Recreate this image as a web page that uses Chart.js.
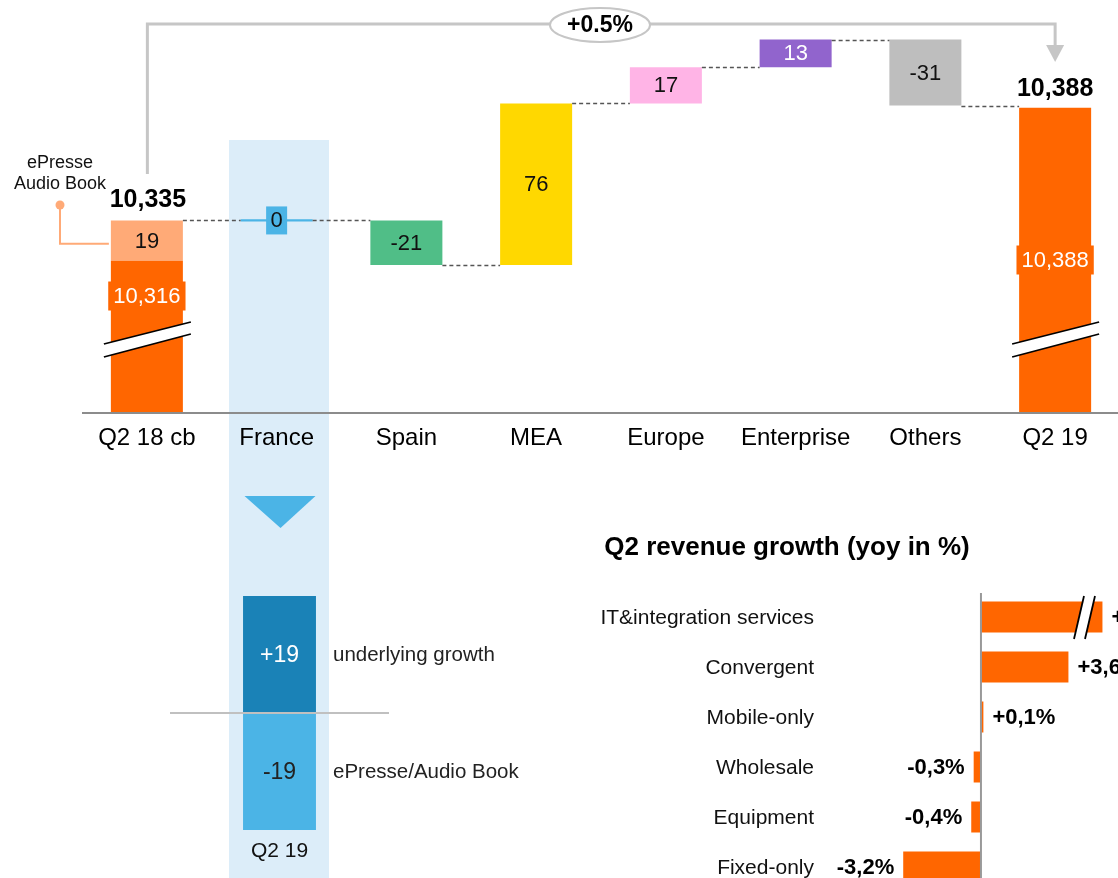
<!DOCTYPE html>
<html><head><meta charset="utf-8">
<script src="https://cdn.jsdelivr.net/npm/chart.js@4.4.1/dist/chart.umd.min.js"></script>
<style>
html,body{margin:0;padding:0;background:#fff;overflow:hidden;width:1118px;height:878px;}
#band{position:absolute;left:229px;top:140px;width:100px;height:738px;background:#dcedf9;}
.box{position:absolute;}
canvas{display:block;}
</style></head><body>
<div id="band"></div>
<div class="box" style="left:0;top:0;width:1120px;height:470px;"><canvas id="wf" width="1120" height="470"></canvas></div>
<div class="box" style="left:170px;top:480px;width:380px;height:398px;overflow:hidden"><canvas id="fr" width="380" height="400"></canvas></div>
<div class="box" style="left:560px;top:520px;width:558px;height:358px;overflow:hidden"><canvas id="hb" width="558" height="390"></canvas></div>
<script>
// ---------- DATA ----------
const categories = ['Q2 18 cb', 'France', 'Spain', 'MEA', 'Europe', 'Enterprise', 'Others', 'Q2 19'];
const openBase = 10316;        // Q2 18 cb excluding ePresse / Audio Book
const openEpresse = 19;        // ePresse / Audio Book part
const changes = [0, -21, 76, 17, 13, -31];   // France .. Others
const closeTotal = 10388;      // Q2 19
const growthLabel = '+0.5%';
const calloutLines = ['ePresse', 'Audio Book'];

const breakdownCategory = ['Q2 19'];
const breakdownSeries = ['underlying growth', 'ePresse/Audio Book'];
const breakdownValues = [19, -19];

const segments = ['IT&integration services', 'Convergent', 'Mobile-only', 'Wholesale', 'Equipment', 'Fixed-only'];
const growthShown = [5.0, 3.6, 0.1, -0.3, -0.4, -3.2];   // bar length as drawn (first bar is axis-broken)
const growthLabels = ['+10,8%', '+3,6%', '+0,1%', '-0,3%', '-0,4%', '-3,2%'];
const growthTitle = 'Q2 revenue growth (yoy in %)';

// ---------- STYLE ----------
const FONT = '"Liberation Sans", Arial, Helvetica, sans-serif';
const ORANGE = '#ff6600';
const barColors = ['#ff6600', '#4bb4e6', '#50be87', '#ffd800', '#ffb4e6', '#9164cd', '#bebebe', '#ff6600'];
const labelColors = ['#fff', '#111', '#111', '#111', '#111', '#fff', '#111', '#fff'];
const Y_MIN = 10244.5, Y_MAX = 10438.6;

const fmt = v => v.toLocaleString('en-US');

// running levels
const levels = [openBase + openEpresse];
changes.forEach(c => levels.push(levels[levels.length - 1] + c));
const mainData = [[Y_MIN, openBase]];
changes.forEach((c, i) => {
  const a = levels[i], b = levels[i + 1];
  mainData.push(c === 0 ? [a - 0.5, a + 0.5] : [Math.min(a, b), Math.max(a, b)]);
});
mainData.push([Y_MIN, closeTotal]);
const epData = categories.map((c, i) => i === 0 ? [openBase, openBase + openEpresse] : null);
const mainLabels = [fmt(openBase)].concat(changes.map(c => String(c))).concat([fmt(closeTotal)]);

Chart.defaults.font.family = FONT;

function txt(ctx, s, x, y, size, color, align, bold) {
  ctx.save();
  ctx.font = (bold ? 'bold ' : '') + size + 'px ' + FONT;
  ctx.fillStyle = color;
  ctx.textAlign = align || 'center';
  ctx.textBaseline = 'middle';
  ctx.fillText(s, x, y);
  ctx.restore();
}

function breakMark(ctx, pts) {
  ctx.save();
  ctx.beginPath();
  ctx.moveTo(pts[0][0], pts[0][1]);
  for (let i = 1; i < pts.length; i++) ctx.lineTo(pts[i][0], pts[i][1]);
  ctx.closePath();
  ctx.fillStyle = '#fff';
  ctx.fill();
  ctx.strokeStyle = '#000';
  ctx.lineWidth = 1.8;
  ctx.beginPath(); ctx.moveTo(pts[0][0], pts[0][1]); ctx.lineTo(pts[1][0], pts[1][1]); ctx.stroke();
  ctx.beginPath(); ctx.moveTo(pts[3][0], pts[3][1]); ctx.lineTo(pts[2][0], pts[2][1]); ctx.stroke();
  ctx.restore();
}

// ---------- WATERFALL ----------
const wfPlugin = {
  id: 'wfDecor',
  afterDatasetsDraw(chart) {
    const ctx = chart.ctx;
    const y = chart.scales.y;
    const bars = chart.getDatasetMeta(0).data;
    const ep = chart.getDatasetMeta(1).data[0];
    const area = chart.chartArea;

    // axis line
    ctx.save();
    ctx.strokeStyle = '#8c8c8c'; ctx.lineWidth = 2;
    ctx.beginPath(); ctx.moveTo(area.left, area.bottom); ctx.lineTo(area.right, area.bottom); ctx.stroke();
    ctx.restore();

    // connectors
    ctx.save();
    ctx.strokeStyle = '#555'; ctx.lineWidth = 1.3; ctx.setLineDash([4, 3]);
    for (let i = 0; i < bars.length - 1; i++) {
      const ly = Math.round(y.getPixelForValue(levels[i])) + 0.5;
      const x1 = bars[i].x + bars[i].width / 2, x2 = bars[i + 1].x - bars[i + 1].width / 2;
      ctx.beginPath(); ctx.moveTo(x1, ly); ctx.lineTo(x2, ly); ctx.stroke();
    }
    ctx.restore();

    // break marks
    [0, bars.length - 1].forEach(i => {
      const cx = bars[i].x;
      breakMark(ctx, [[cx - 43, 344], [cx + 44, 322], [cx + 44, 334], [cx - 43, 357]]);
    });

    // inside labels of changes
    for (let i = 1; i < bars.length - 1; i++) {
      const b = bars[i];
      const cy = (b.y + b.base) / 2;
      if (changes[i - 1] === 0) {
        ctx.fillStyle = barColors[i];
        ctx.fillRect(b.x - 10.5, cy - 14, 21, 28);
      }
      txt(ctx, mainLabels[i], b.x, cy + 1, 22, labelColors[i]);
    }
    // ePresse segment label
    txt(ctx, String(openEpresse), ep.x, (ep.y + ep.base) / 2 + 1, 22, '#111');

    // orange value boxes
    const boxLabel = (b, s, cy) => {
      ctx.save();
      ctx.font = '22px ' + FONT;
      const w = ctx.measureText(s).width + 10;
      ctx.fillStyle = ORANGE;
      ctx.fillRect(b.x - w / 2, cy - 14.5, w, 29);
      ctx.restore();
      txt(ctx, s, b.x, cy + 1, 22, '#fff');
    };
    boxLabel(bars[0], mainLabels[0], 296);
    boxLabel(bars[bars.length - 1], mainLabels[bars.length - 1], 260);

    // totals on top
    const topOpen = y.getPixelForValue(openBase + openEpresse);
    const topClose = y.getPixelForValue(closeTotal);
    txt(ctx, fmt(openBase + openEpresse), bars[0].x + 1, topOpen - 20, 25, '#000', 'center', true);
    txt(ctx, fmt(closeTotal), bars[bars.length - 1].x, topClose - 19, 25, '#000', 'center', true);

    // category labels
    bars.forEach((b, i) => txt(ctx, categories[i], b.x, 438, 24, '#000'));

    // ePresse callout
    txt(ctx, calloutLines[0], 60, 163, 18, '#111');
    txt(ctx, calloutLines[1], 60, 184, 18, '#111');
    ctx.save();
    ctx.strokeStyle = '#ffaa77'; ctx.fillStyle = '#ffaa77'; ctx.lineWidth = 2;
    ctx.beginPath(); ctx.arc(60, 205, 4.5, 0, Math.PI * 2); ctx.fill();
    const epMid = (ep.y + ep.base) / 2 + 3;
    ctx.beginPath(); ctx.moveTo(60, 205); ctx.lineTo(60, epMid); ctx.lineTo(ep.x - ep.width / 2 - 2, epMid); ctx.stroke();
    ctx.restore();

    // growth bracket
    const bx1 = bars[0].x + 0.5, bx2 = bars[bars.length - 1].x;
    ctx.save();
    ctx.strokeStyle = '#c6c6c6'; ctx.fillStyle = '#c6c6c6'; ctx.lineWidth = 3;
    ctx.beginPath(); ctx.moveTo(bx1, 174); ctx.lineTo(bx1, 24); ctx.lineTo(bx2, 24); ctx.lineTo(bx2, 47); ctx.stroke();
    ctx.beginPath(); ctx.moveTo(bx2 - 9, 45); ctx.lineTo(bx2 + 9, 45); ctx.lineTo(bx2, 62); ctx.closePath(); ctx.fill();
    ctx.beginPath(); ctx.ellipse(600, 25, 50, 17, 0, 0, Math.PI * 2);
    ctx.fillStyle = '#fff'; ctx.fill(); ctx.lineWidth = 2; ctx.stroke();
    ctx.restore();
    txt(ctx, growthLabel, 600, 26, 23, '#000', 'center', true);
  }
};

new Chart(document.getElementById('wf'), {
  type: 'bar',
  data: {
    labels: categories,
    datasets: [
      { data: mainData, backgroundColor: barColors, grouped: false, barPercentage: 0.555, categoryPercentage: 1 },
      { data: epData, backgroundColor: '#ffaa77', grouped: false, barPercentage: 0.555, categoryPercentage: 1 }
    ]
  },
  options: {
    responsive: false, animation: false, events: [], devicePixelRatio: 1,
    layout: { padding: { left: 82, right: 0, top: 0, bottom: 57 } },
    plugins: { legend: { display: false }, tooltip: { enabled: false } },
    scales: {
      x: { display: false, offset: true },
      y: { display: false, min: Y_MIN, max: Y_MAX }
    }
  },
  plugins: [wfPlugin]
});

// ---------- FRANCE BREAKDOWN ----------
const frPlugin = {
  id: 'frDecor',
  afterDatasetsDraw(chart) {
    const ctx = chart.ctx, area = chart.chartArea, y = chart.scales.y;
    const b0 = chart.getDatasetMeta(0).data[0], b1 = chart.getDatasetMeta(1).data[0];
    // triangle
    ctx.save();
    ctx.fillStyle = '#4bb4e6';
    ctx.beginPath(); ctx.moveTo(b0.x - 35, 16); ctx.lineTo(b0.x + 36, 16); ctx.lineTo(b0.x + 1, 48); ctx.closePath(); ctx.fill();
    // zero line
    const zy = y.getPixelForValue(0);
    ctx.strokeStyle = '#c0c0c0'; ctx.lineWidth = 2;
    ctx.beginPath(); ctx.moveTo(area.left, zy); ctx.lineTo(area.right, zy); ctx.stroke();
    ctx.restore();
    const c0 = (b0.y + b0.base) / 2, c1 = (b1.y + b1.base) / 2;
    txt(ctx, (breakdownValues[0] > 0 ? '+' : '') + breakdownValues[0], b0.x, c0 + 1, 23, '#fff');
    txt(ctx, String(breakdownValues[1]), b1.x, c1 + 1, 23, '#222');
    txt(ctx, breakdownSeries[0], 163, c0 + 1, 20.5, '#222', 'left');
    txt(ctx, breakdownSeries[1], 163, c1 + 1, 20.5, '#222', 'left');
    txt(ctx, breakdownCategory[0], b0.x, 371, 21, '#111');
  }
};

new Chart(document.getElementById('fr'), {
  type: 'bar',
  data: {
    labels: breakdownCategory,
    datasets: [
      { label: breakdownSeries[0], data: [breakdownValues[0]], backgroundColor: '#1a82b7', barPercentage: 0.333, categoryPercentage: 1 },
      { label: breakdownSeries[1], data: [breakdownValues[1]], backgroundColor: '#4bb4e6', barPercentage: 0.333, categoryPercentage: 1 }
    ]
  },
  options: {
    responsive: false, animation: false, events: [], devicePixelRatio: 1,
    layout: { padding: { left: 0, right: 161, top: 116, bottom: 50 } },
    plugins: { legend: { display: false }, tooltip: { enabled: false } },
    scales: {
      x: { display: false, stacked: true },
      y: { display: false, stacked: true, min: -19, max: 19 }
    }
  },
  plugins: [frPlugin]
});

// ---------- REVENUE GROWTH ----------
const hbPlugin = {
  id: 'hbDecor',
  afterDatasetsDraw(chart) {
    const ctx = chart.ctx, area = chart.chartArea, x = chart.scales.x;
    const bars = chart.getDatasetMeta(0).data;
    const zx = x.getPixelForValue(0);
    ctx.save();
    ctx.strokeStyle = '#999'; ctx.lineWidth = 2;
    ctx.beginPath(); ctx.moveTo(zx, area.top + 1); ctx.lineTo(zx, chart.height); ctx.stroke();
    ctx.restore();
    txt(ctx, growthTitle, 227, 28, 26, '#000', 'center', true);
    bars.forEach((b, i) => {
      txt(ctx, segments[i], 254, b.y + 1, 21, '#111', 'right');
      if (growthShown[i] >= 0) txt(ctx, growthLabels[i], b.x + 9, b.y + 1, 22, '#000', 'left', true);
      else txt(ctx, growthLabels[i], b.x - 9, b.y + 1, 22, '#000', 'right', true);
    });
    // axis break on first bar
    const b = bars[0];
    const t = b.y - 21, btm = b.y + 22;
    breakMark(ctx, [[514, btm], [524, t], [535, t], [525, btm]]);
  }
};

new Chart(document.getElementById('hb'), {
  type: 'bar',
  data: {
    labels: segments,
    datasets: [{ data: growthShown, backgroundColor: ORANGE, barPercentage: 0.62, categoryPercentage: 1 }]
  },
  options: {
    indexAxis: 'y',
    responsive: false, animation: false, events: [], devicePixelRatio: 1,
    layout: { padding: { left: 290, right: 0, top: 72, bottom: 18 } },
    plugins: { legend: { display: false }, tooltip: { enabled: false } },
    scales: {
      x: { display: false, min: -5.39, max: 5.64 },
      y: { display: false }
    }
  },
  plugins: [hbPlugin]
});
</script>
</body></html>
